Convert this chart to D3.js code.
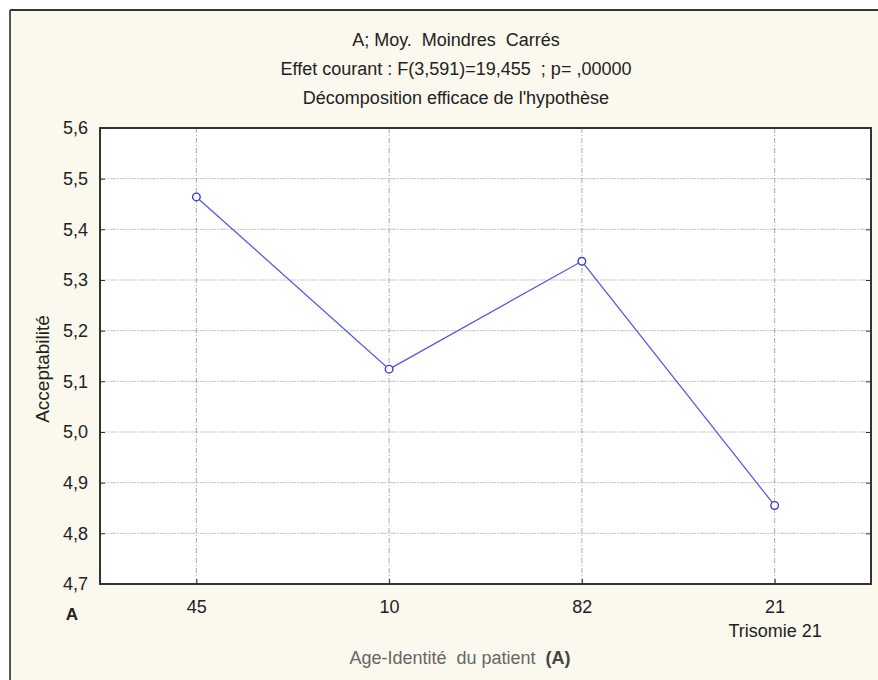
<!DOCTYPE html>
<html><head><meta charset="utf-8">
<script src="https://cdn.jsdelivr.net/npm/d3@7"></script>
<style>body{margin:0;background:#fff;} svg{display:block;font-family:"Liberation Sans",Arial,sans-serif;} text{white-space:pre;}</style>
</head><body><svg id="c" width="878" height="680"></svg>
<script>
const categories = ["45","10","82","21"];
const subLabels = ["","","","Trisomie 21"];
const values = [5.464, 5.124, 5.337, 4.855];
const yTicks = [4.7,4.8,4.9,5.0,5.1,5.2,5.3,5.4,5.5,5.6];
const titles = ["A; Moy.  Moindres  Carrés","Effet courant : F(3,591)=19,455  ; p= ,00000","Décomposition efficace de l'hypothèse"];

const FS = 18;
const svg = d3.select("#c");
const M = {l:100, r:871, t:128, b:584};
svg.append("rect").attr("x",10).attr("y",10).attr("width",868).attr("height",670).attr("fill","#fbf8ee");
svg.append("line").attr("x1",10).attr("x2",878).attr("y1",10).attr("y2",10).attr("stroke","#333").attr("stroke-width",2);
svg.append("line").attr("x1",10).attr("x2",10).attr("y1",10).attr("y2",680).attr("stroke","#555").attr("stroke-width",2);

const x = d3.scalePoint().domain(categories).range([M.l,M.r]).padding(0.5);
const y = d3.scaleLinear().domain([4.7,5.6]).range([M.b,M.t]);

svg.append("rect").attr("x",M.l).attr("y",M.t).attr("width",M.r-M.l).attr("height",M.b-M.t).attr("fill","#fff");

// gridlines
svg.append("g").selectAll("line").data(yTicks.slice(1,-1)).join("line")
  .attr("x1",M.l).attr("x2",M.r).attr("y1",d=>y(d)).attr("y2",d=>y(d))
  .attr("stroke","#c8c8c8").attr("stroke-width",1).attr("stroke-dasharray","6,1,2,1");
svg.append("g").selectAll("line").data(categories).join("line")
  .attr("x1",d=>x(d)).attr("x2",d=>x(d)).attr("y1",M.t).attr("y2",M.b)
  .attr("stroke","#aaa").attr("stroke-width",1).attr("stroke-dasharray","5,2,1,2");

// axes
const yAxis = d3.axisLeft(y).tickValues(yTicks).tickSize(-5).tickPadding(12)
  .tickFormat(d=>d3.format(".1f")(d).replace(".",","));
const gy = svg.append("g").attr("transform",`translate(${M.l},0)`).call(yAxis);
gy.select(".domain").remove();
gy.selectAll("line").attr("stroke","#333");
gy.selectAll("text").attr("font-size",FS).attr("fill","#222").attr("font-family","Liberation Sans, Arial, sans-serif");
const yAxisR = d3.axisRight(y).tickValues(yTicks).tickSize(-5).tickFormat("");
const gyr = svg.append("g").attr("transform",`translate(${M.r},0)`).call(yAxisR);
gyr.select(".domain").remove(); gyr.selectAll("line").attr("stroke","#333");

const xAxis = d3.axisBottom(x).tickSize(-5).tickPadding(16);
const gx = svg.append("g").attr("transform",`translate(0,${M.b})`).call(xAxis);
gx.select(".domain").remove();
gx.selectAll("line").attr("stroke","#333");
gx.selectAll("text").attr("font-size",FS).attr("fill","#222").attr("font-family","Liberation Sans, Arial, sans-serif");
gx.selectAll(".tick").append("text").text((d,i)=>subLabels[i]).attr("y",53).attr("fill","#222")
  .attr("font-size",FS).attr("text-anchor","middle").attr("font-family","Liberation Sans, Arial, sans-serif");

svg.append("rect").attr("x",M.l).attr("y",M.t).attr("width",M.r-M.l).attr("height",M.b-M.t)
  .attr("fill","none").attr("stroke","#333").attr("stroke-width",2);

// line + points
const line = d3.line().x((d,i)=>x(categories[i])).y(d=>y(d));
svg.append("path").datum(values).attr("d",line).attr("fill","none").attr("stroke","#5a5ae0").attr("stroke-width",1.3);
svg.append("g").selectAll("circle").data(values).join("circle")
  .attr("cx",(d,i)=>x(categories[i])).attr("cy",d=>y(d)).attr("r",3.8)
  .attr("fill","#fff").attr("stroke","#3c3cc8").attr("stroke-width",1.4);

// titles
svg.append("g").selectAll("text").data(titles).join("text")
  .attr("x",456).attr("y",(d,i)=>46+i*29).attr("text-anchor","middle")
  .attr("font-size",FS).attr("fill","#222").text(d=>d);

svg.append("text").attr("x",72).attr("y",620).attr("text-anchor","middle")
  .attr("font-size",17).attr("font-weight","bold").attr("fill","#222").text("A");

svg.append("text").attr("transform","translate(49,369) rotate(-90)").attr("text-anchor","middle")
  .attr("font-size",19).attr("fill","#222").text("Acceptabilité");

const xt = svg.append("text").attr("x",460).attr("y",664).attr("text-anchor","middle")
  .attr("font-size",FS).attr("fill","#666");
xt.append("tspan").text("Age-Identité  du patient  ");
xt.append("tspan").attr("font-weight","bold").attr("fill","#444").text("(A)");
</script></body></html>
